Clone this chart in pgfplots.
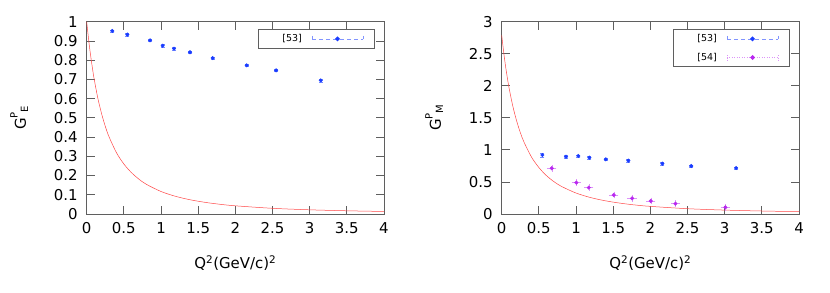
\documentclass[border=0pt]{standalone}
\usepackage{pgfplots}
\pgfplotsset{compat=1.18}
\usepackage{fontspec}
\setmainfont{DejaVu Sans}
\definecolor{ptblue}{RGB}{25,60,255}
\definecolor{ptmag}{RGB}{185,40,240}
\definecolor{curvered}{RGB}{255,70,70}
\definecolor{axgray}{RGB}{95,95,95}

\pgfplotsset{
 myaxis/.style={
  scale only axis, width=297.3bp, height=192.3bp,
  xmin=0, xmax=4, xtick={0,0.5,1,1.5,2,2.5,3,3.5,4},
  tick align=inside, major tick length=8bp,
  axis line style={axgray, line width=0.8pt},
  tick style={axgray, line width=0.8pt},
  /pgf/number format/assume math mode=true,
  ticklabel style={font=\fontsize{15}{18}\selectfont},
  xticklabel style={yshift=-5bp},
  yticklabel style={xshift=-5.5bp},
  every axis x label/.style={at={(axis description cs:0.5,0)}, yshift=-49bp, anchor=center, font=\fontsize{15}{18}\selectfont},
  every axis y label/.style={at={(axis description cs:0,0.5)}, xshift=-67.5bp, rotate=90, anchor=center, font=\fontsize{15}{18}\selectfont},
  xlabel={Q\textsuperscript{2}(GeV/c)\textsuperscript{2}},
  legend style={font=\fontsize{9.5}{11}\selectfont, draw=axgray, line width=1pt, at={(axis description cs:1,1)}, anchor=north east, xshift=-9bp, yshift=-7.3bp, inner xsep=3bp, inner ysep=3bp, row sep=6bp},
  legend plot pos=right, legend cell align=right,
 },
 blueleg/.style={legend image code/.code={
   \draw[ptblue!55, dashed, dash pattern=on 4bp off 3bp, line width=0.5pt] (0bp,0bp) -- (51bp,0bp);
   \draw[ptblue!55, line width=0.5pt] (0bp,3bp) -- (0bp,0bp) (51bp,3bp) -- (51bp,0bp);
   \fill[ptblue] (25.5bp,0bp) circle (1.8bp);
   \path (59bp,0bp);}},
 magleg/.style={legend image code/.code={
   \draw[ptmag!50, dotted, line width=0.5pt] (0bp,0bp) -- (51bp,0bp);
   \draw[ptmag!50, dotted, line width=0.5pt] (0bp,-3bp) -- (0bp,3bp) (51bp,-3bp) -- (51bp,3bp);
   \fill[ptmag] (25.5bp,0bp) circle (1.8bp);
   \path (59bp,0bp);}},
}

\pgfplotstableread{
x y ex ey
0.345 0.952 0.03 0.006
0.547 0.933 0.03 0.006
0.852 0.903 0.03 0.006
1.022 0.875 0.03 0.006
1.175 0.860 0.03 0.006
1.390 0.841 0.03 0.006
1.695 0.811 0.03 0.006
2.153 0.773 0.03 0.006
2.548 0.747 0.03 0.006
3.149 0.695 0.03 0.008
}\geblue

\pgfplotstableread{
x y ex ey
0.547 0.920 0.03 0.030
0.865 0.894 0.03 0.020
1.031 0.905 0.03 0.018
1.180 0.879 0.03 0.018
1.400 0.853 0.03 0.018
1.704 0.832 0.03 0.018
2.162 0.785 0.03 0.018
2.550 0.749 0.03 0.018
3.154 0.718 0.03 0.018
}\gmblue

\pgfplotstableread{
x y ex ey
0.673 0.713 0.035 0.020
1.004 0.489 0.035 0.020
1.171 0.411 0.035 0.020
1.507 0.296 0.035 0.020
1.754 0.244 0.035 0.020
2.005 0.203 0.035 0.020
2.337 0.161 0.035 0.020
3.010 0.104 0.035 0.020
}\gmmag

\pgfplotstableread{
x y
0.000 1.000
0.025 0.910
0.050 0.832
0.075 0.764
0.100 0.703
0.150 0.602
0.200 0.522
0.250 0.456
0.300 0.402
0.400 0.319
0.500 0.260
0.600 0.216
0.700 0.182
0.800 0.155
1.000 0.117
1.200 0.0914
1.400 0.0734
1.600 0.0602
1.800 0.0502
2.000 0.0426
2.500 0.0296
3.000 0.0218
3.500 0.0167
4.000 0.0132
}\gecurve

\pgfplotstableread{
x y
0.000 2.790
0.025 2.540
0.050 2.320
0.075 2.130
0.100 1.960
0.150 1.680
0.200 1.456
0.250 1.272
0.300 1.122
0.400 0.890
0.500 0.725
0.600 0.601
0.700 0.507
0.800 0.433
1.000 0.327
1.200 0.255
1.400 0.205
1.600 0.168
1.800 0.140
2.000 0.119
2.500 0.0827
3.000 0.0609
3.500 0.0467
4.000 0.0369
}\gmcurve

\begin{document}
\begin{tikzpicture}
\useasboundingbox (0,0) rectangle (830bp,293bp);
\begin{axis}[myaxis, at={(86.7bp,79bp)}, anchor=south west,
  ymin=0, ymax=1, ytick={0,0.1,0.2,0.3,0.4,0.5,0.6,0.7,0.8,0.9,1},
  ylabel={G\raisebox{0.55em}{\fontsize{10}{10}\selectfont P}\raisebox{-0.15em}{\fontsize{10}{10}\selectfont E}}]
\addplot[curvered, line width=0.5pt, smooth, forget plot] table[x=x,y=y] {\gecurve};
\addplot[ptblue, only marks, mark=*, mark size=1.8bp, blueleg,
  error bars/.cd, y dir=both, y explicit, error bar style={ptblue!60, line width=0.5pt}, error mark options={rotate=90, mark size=2bp, ptblue!60}]
  table[x=x,y=y,y error=ey] {\geblue};
\addlegendentry{\makebox[46bp][r]{[53]\kern8bp}}
\end{axis}
\begin{axis}[myaxis, at={(501.7bp,79bp)}, anchor=south west,
  ymin=0, ymax=3, ytick={0,0.5,1,1.5,2,2.5,3},
  ylabel={G\raisebox{0.55em}{\fontsize{10}{10}\selectfont P}\raisebox{-0.15em}{\fontsize{10}{10}\selectfont M}}]
\addplot[curvered, line width=0.5pt, smooth, forget plot] table[x=x,y=y] {\gmcurve};
\addplot[ptblue, only marks, mark=*, mark size=1.8bp, blueleg,
  error bars/.cd, y dir=both, y explicit, error bar style={ptblue!60, line width=0.5pt}, error mark options={rotate=90, mark size=2bp, ptblue!60}]
  table[x=x,y=y,y error=ey] {\gmblue};
\addlegendentry{\makebox[46bp][r]{[53]\kern8bp}}
\addplot[ptmag, only marks, mark=*, mark size=1.8bp, magleg,
  error bars/.cd, x dir=both, x explicit, y dir=both, y explicit, error bar style={ptmag!50, line width=0.5pt, densely dotted}, error mark options={mark size=2bp, ptmag!50}]
  table[x=x,y=y,x error=ex,y error=ey] {\gmmag};
\addlegendentry{\makebox[46bp][r]{[54]\kern8bp}}
\end{axis}
\end{tikzpicture}
\end{document}
